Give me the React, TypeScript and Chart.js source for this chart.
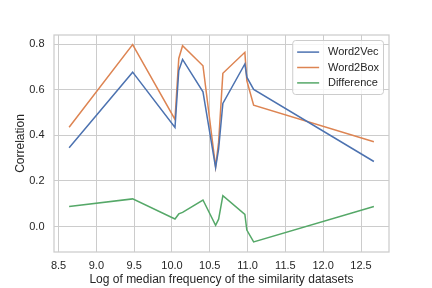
import React, { useEffect, useRef } from "react";
import { Chart, registerables } from "chart.js";

Chart.register(...registerables);

const xValues = [8.64, 9.48, 10.04, 10.09, 10.14, 10.41, 10.577, 10.617, 10.673, 10.964, 10.99, 11.08, 12.67];
const word2vec = [0.345, 0.677, 0.434, 0.684, 0.733, 0.591, 0.258, 0.34, 0.54, 0.713, 0.655, 0.601, 0.285];
const word2box = [0.435, 0.798, 0.47, 0.737, 0.793, 0.705, 0.262, 0.37, 0.672, 0.764, 0.64, 0.532, 0.372];
const difference = [0.088, 0.121, 0.033, 0.055, 0.062, 0.116, 0.005, 0.032, 0.135, 0.053, -0.016, -0.068, 0.088];

const xTicks = [8.5, 9.0, 9.5, 10.0, 10.5, 11.0, 11.5, 12.0, 12.5];
const yTicks = [0.0, 0.2, 0.4, 0.6, 0.8];

const seriesNames = ["Word2Vec", "Word2Box", "Difference"];
const seriesColors = ["#4C72B0", "#DD8452", "#55A868"];

const xTitle = "Log of median frequency of the similarity datasets";
const yTitle = "Correlation";

const FONT = "'Liberation Sans', Arial, 'DejaVu Sans', sans-serif";
const TEXT = "#262626";
const GRID = "#cccccc";

const framePlugin = {
  id: "frame",
  afterDatasetsDraw(chart: any) {
    const { ctx, chartArea } = chart;
    ctx.save();
    ctx.strokeStyle = GRID;
    ctx.lineWidth = 1.25;
    ctx.strokeRect(chartArea.left, chartArea.top, chartArea.right - chartArea.left, chartArea.bottom - chartArea.top);
    ctx.restore();
  },
};

const legendPlugin = {
  id: "innerLegend",
  afterDraw(chart: any) {
    const { ctx, chartArea } = chart;
    const fs = 11;
    ctx.save();
    ctx.font = `${fs}px ${FONT}`;
    const ds = chart.data.datasets;
    let maxW = 0;
    ds.forEach((d: any) => {
      maxW = Math.max(maxW, ctx.measureText(d.label).width);
    });
    const pad = 4.4;
    const handle = 22;
    const gap = 8.8;
    const rowH = 15.4;
    const w = pad * 2 + handle + gap + maxW;
    const h = pad * 2 + rowH * ds.length - 1;
    const right = chartArea.right - 5.5;
    const top = chartArea.top + 5.5;
    const left = right - w;
    const r = 3;
    ctx.beginPath();
    ctx.moveTo(left + r, top);
    ctx.lineTo(right - r, top);
    ctx.quadraticCurveTo(right, top, right, top + r);
    ctx.lineTo(right, top + h - r);
    ctx.quadraticCurveTo(right, top + h, right - r, top + h);
    ctx.lineTo(left + r, top + h);
    ctx.quadraticCurveTo(left, top + h, left, top + h - r);
    ctx.lineTo(left, top + r);
    ctx.quadraticCurveTo(left, top, left + r, top);
    ctx.closePath();
    ctx.fillStyle = "rgba(255,255,255,0.8)";
    ctx.fill();
    ctx.strokeStyle = GRID;
    ctx.lineWidth = 1;
    ctx.stroke();
    ds.forEach((d: any, i: number) => {
      const cy = top + pad + rowH * i + rowH / 2 - 0.5;
      ctx.beginPath();
      ctx.strokeStyle = d.borderColor;
      ctx.lineWidth = 1.5;
      ctx.moveTo(left + pad, cy);
      ctx.lineTo(left + pad + handle, cy);
      ctx.stroke();
      ctx.fillStyle = TEXT;
      ctx.textBaseline = "middle";
      ctx.textAlign = "left";
      ctx.fillText(d.label, left + pad + handle + gap, cy);
    });
    ctx.restore();
  },
};

export default function App() {
  const ref = useRef<HTMLCanvasElement | null>(null);

  useEffect(() => {
    if (!ref.current) return;
    const series = [word2vec, word2box, difference];
    const chart = new Chart(ref.current, {
      type: "line",
      data: {
        datasets: series.map((vals, i) => ({
          label: seriesNames[i],
          data: xValues.map((x, j) => ({ x, y: vals[j] })),
          borderColor: seriesColors[i],
          backgroundColor: seriesColors[i],
          borderWidth: 1.5,
          pointRadius: 0,
          tension: 0,
          fill: false,
        })),
      },
      options: {
        animation: false,
        responsive: false,
        devicePixelRatio: 1,
        layout: { padding: { left: 0, right: 43, top: 35, bottom: 0 } },
        plugins: {
          legend: { display: false },
          tooltip: { enabled: false },
        },
        scales: {
          x: {
            type: "linear",
            min: 8.44,
            max: 12.87,
            border: { display: false },
            grid: { color: GRID, lineWidth: 1, drawTicks: false },
            afterBuildTicks: (scale: any) => {
              scale.ticks = xTicks.map((v) => ({ value: v }));
            },
            afterFit: (scale: any) => {
              scale.height = 36;
            },
            ticks: {
              padding: 7,
              color: TEXT,
              font: { family: FONT, size: 11 },
              maxRotation: 0,
              autoSkip: false,
              callback: (v: any) => Number(v).toFixed(1),
            },
            title: {
              display: true,
              text: xTitle,
              color: TEXT,
              font: { family: FONT, size: 12 },
              padding: { top: 0, bottom: 1 },
            },
          },
          y: {
            type: "linear",
            min: -0.112,
            max: 0.84,
            border: { display: false },
            grid: { color: GRID, lineWidth: 1, drawTicks: false },
            afterBuildTicks: (scale: any) => {
              scale.ticks = yTicks.map((v) => ({ value: v }));
            },
            afterFit: (scale: any) => {
              scale.width = 54;
            },
            ticks: {
              padding: 9.5,
              color: TEXT,
              font: { family: FONT, size: 11 },
              autoSkip: false,
              callback: (v: any) => Number(v).toFixed(1),
            },
            title: {
              display: true,
              text: yTitle,
              color: TEXT,
              font: { family: FONT, size: 12 },
              padding: { top: 13, bottom: 0 },
            },
          },
        },
      },
      plugins: [framePlugin, legendPlugin],
    } as any);
    return () => chart.destroy();
  }, []);

  return (
    <div style={{ position: "fixed", left: 0, top: 0, width: 432, height: 288, background: "#ffffff" }}>
      <canvas ref={ref} width={432} height={288} style={{ display: "block", width: 432, height: 288 }} />
    </div>
  );
}
